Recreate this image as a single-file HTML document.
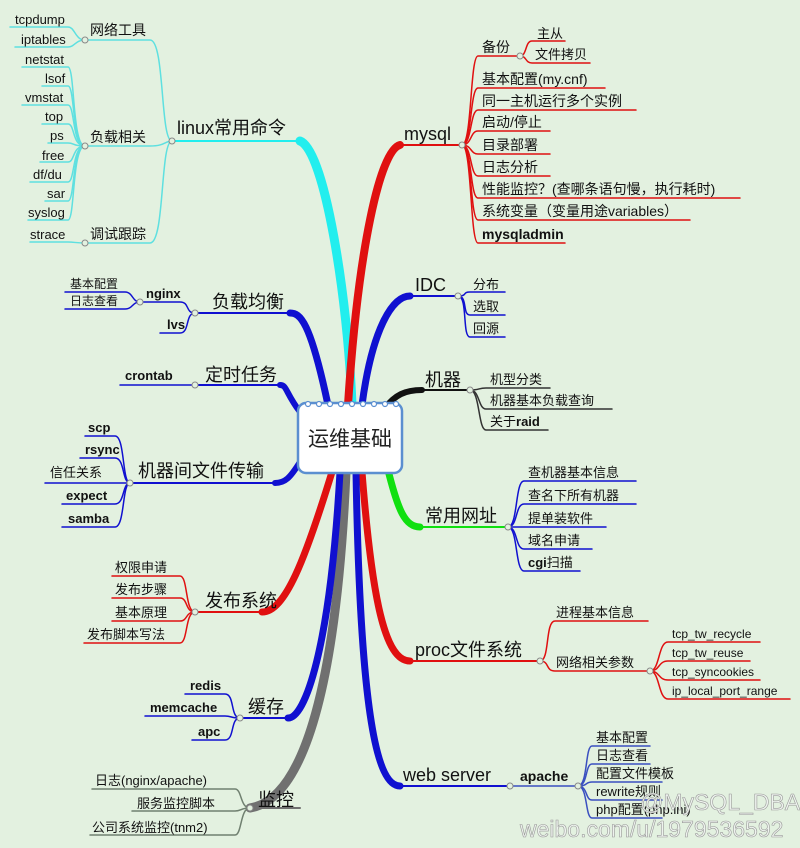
<!DOCTYPE html>
<html><head><meta charset="utf-8"><style>
html,body{margin:0;padding:0;background:#e3f1e0;}
svg{display:block;font-family:"Liberation Sans","Noto Sans CJK SC",sans-serif;}
.s{font-size:13px;fill:#111;}
.m{font-size:14px;fill:#111;}
.b{font-size:18px;fill:#111;}
.bold{font-weight:bold;}
</style></head><body>
<svg width="800" height="848" viewBox="0 0 800 848" xmlns="http://www.w3.org/2000/svg">
<rect width="800" height="848" fill="#e3f1e0"/>
<g fill="none" stroke-linecap="round">
<path d="M352,405 C348,300 325,150 300,141" stroke="#22eeee" stroke-width="9"/>
<path d="M348,405 C358,250 380,150 400,145" stroke="#e01010" stroke-width="8"/>
<path d="M362,405 C372,330 392,296 410,296" stroke="#1010d0" stroke-width="7"/>
<path d="M385,408 C395,395 405,390 422,390" stroke="#111" stroke-width="6"/>
<path d="M388,470 C398,510 405,527 420,527" stroke="#10e010" stroke-width="7"/>
<path d="M362,472 C372,600 385,661 410,661" stroke="#e01010" stroke-width="7"/>
<path d="M356,472 C360,700 375,786 400,786" stroke="#1010d0" stroke-width="7"/>
<path d="M346,472 C336,700 300,800 250,808" stroke="#707070" stroke-width="9"/>
<path d="M340,472 C330,650 305,718 288,718" stroke="#1010d0" stroke-width="7"/>
<path d="M332,472 C305,560 285,612 262,612" stroke="#e01010" stroke-width="7"/>
<path d="M300,462 C290,478 285,483 275,483" stroke="#1010d0" stroke-width="6"/>
<path d="M300,412 C285,392 287,385 280,385" stroke="#1010d0" stroke-width="6"/>
<path d="M328,405 C310,320 300,313 290,313" stroke="#1010d0" stroke-width="7"/>
<g stroke-width="2">
<path d="M172,141 H300" stroke="#22eeee"/>
<path d="M400,145 H462" stroke="#e01010"/>
<path d="M410,296 H458" stroke="#1010d0"/>
<path d="M422,390 H470" stroke="#111"/>
<path d="M420,527 H508" stroke="#10e010"/>
<path d="M410,661 H540" stroke="#e01010"/>
<path d="M400,786 H510" stroke="#1010d0"/>
<path d="M250,808 H300" stroke="#707070"/>
<path d="M240,718 H288" stroke="#1010d0"/>
<path d="M195,612 H262" stroke="#e01010"/>
<path d="M130,483 H275" stroke="#1010d0"/>
<path d="M195,385 H280" stroke="#1010d0"/>
<path d="M195,313 H290" stroke="#1010d0"/>
</g>
<g stroke="#5ee0e0" stroke-width="1.5">
<path d="M172,141 C160,141 165,40 150,40 H85"/>
<path d="M172,141 C165,141 165,146 150,146 H85"/>
<path d="M172,141 C160,141 165,243 150,243 H85"/>
<path d="M85,40 C75,40 75,27 68,27 H10"/>
<path d="M85,40 C75,40 75,47 68,47 H15"/>
<path d="M85,146 C72,146 75,67 68,67 H22"/>
<path d="M85,146 C72,146 75,86 68,86 H42"/>
<path d="M85,146 C72,146 75,105 68,105 H22"/>
<path d="M85,146 C72,146 75,124 68,124 H42"/>
<path d="M85,146 C72,146 75,143 68,143 H48"/>
<path d="M85,146 C72,146 75,162 68,162 H40"/>
<path d="M85,146 C72,146 75,182 68,182 H30"/>
<path d="M85,146 C72,146 75,201 68,201 H45"/>
<path d="M85,146 C72,146 75,220 68,220 H28"/>
<path d="M85,243 C75,243 75,242 68,242 H30"/>
</g>
<g stroke="#e01010" stroke-width="1.5">
<path d="M462,145 C472,145 470,56 478,56 H520"/>
<path d="M462,145 C472,145 470,88 478,88 H605"/>
<path d="M462,145 C472,145 470,110 478,110 H636"/>
<path d="M462,145 C472,145 470,131 478,131 H550"/>
<path d="M462,145 C472,145 470,154 478,154 H550"/>
<path d="M462,145 C472,145 470,176 478,176 H550"/>
<path d="M462,145 C472,145 470,198 478,198 H740"/>
<path d="M462,145 C472,145 470,220 478,220 H690"/>
<path d="M462,145 C472,145 470,243 478,243 H565"/>
<path d="M520,56 C527,56 525,41 532,41 H565"/>
<path d="M520,56 C527,56 525,63 532,63 H590"/>
</g>
<g stroke="#1010d0" stroke-width="1.5">
<path d="M458,296 C468,296 462,292 470,292 H505"/>
<path d="M458,296 C468,296 462,315 470,315 H505"/>
<path d="M458,296 C468,296 462,337 470,337 H505"/>
</g>
<g stroke="#333" stroke-width="1.5">
<path d="M470,390 C480,390 478,388 486,388 H550"/>
<path d="M470,390 C480,390 478,409 486,409 H612"/>
<path d="M470,390 C480,390 478,430 486,430 H548"/>
</g>
<g stroke="#1010d0" stroke-width="1.5">
<path d="M508,527 C518,527 515,481 524,481 H636"/>
<path d="M508,527 C518,527 515,504 524,504 H636"/>
<path d="M508,527 C518,527 515,527 524,527 H606"/>
<path d="M508,527 C518,527 515,549 524,549 H592"/>
<path d="M508,527 C518,527 515,571 524,571 H580"/>
</g>
<g stroke="#e01010" stroke-width="1.5">
<path d="M540,661 C550,661 545,621 555,621 H648"/>
<path d="M540,661 C550,661 545,671 555,671 H650"/>
<path d="M650,671 C660,671 658,642 668,642 H760"/>
<path d="M650,671 C660,671 658,661 668,661 H750"/>
<path d="M650,671 C660,671 658,680 668,680 H760"/>
<path d="M650,671 C660,671 658,699 668,699 H790"/>
</g>
<g stroke="#3a4fc0" stroke-width="1.5">
<path d="M510,786 H578"/>
<path d="M578,786 C588,786 585,746 592,746 H650"/>
<path d="M578,786 C588,786 585,764 592,764 H650"/>
<path d="M578,786 C588,786 585,782 592,782 H662"/>
<path d="M578,786 C588,786 585,800 592,800 H662"/>
<path d="M578,786 C588,786 585,818 592,818 H662"/>
</g>
<g stroke="#1010d0" stroke-width="1.5">
<path d="M195,313 C185,313 190,302 180,302 H140"/>
<path d="M195,313 C185,313 190,333 180,333 H160"/>
<path d="M140,302 C132,302 133,292 125,292 H65"/>
<path d="M140,302 C132,302 133,309 125,309 H65"/>
<path d="M195,385 H120"/>
<path d="M130,483 C122,483 125,436 115,436 H85"/>
<path d="M130,483 C122,483 125,458 115,458 H80"/>
<path d="M130,483 H45"/>
<path d="M130,483 C122,483 125,504 115,504 H62"/>
<path d="M130,483 C122,483 125,527 115,527 H62"/>
<path d="M240,718 C230,718 235,694 225,694 H185"/>
<path d="M240,718 C230,718 232,716 225,716 H145"/>
<path d="M240,718 C230,718 235,740 225,740 H192"/>
</g>
<g stroke="#e01010" stroke-width="1.5">
<path d="M195,612 C185,612 188,576 180,576 H112"/>
<path d="M195,612 C185,612 188,598 180,598 H112"/>
<path d="M195,612 C185,612 188,621 180,621 H112"/>
<path d="M195,612 C185,612 188,643 180,643 H84"/>
</g>
<g stroke="#708070" stroke-width="1.5">
<path d="M250,808 C240,808 242,789 235,789 H92"/>
<path d="M250,808 C240,808 242,811 235,811 H132"/>
<path d="M250,808 C240,808 242,835 235,835 H90"/>
</g>
</g>
<g fill="#e3f1e0" stroke="#888" stroke-width="1">
<circle cx="172" cy="141" r="3"/><circle cx="85" cy="40" r="3"/><circle cx="85" cy="146" r="3"/><circle cx="85" cy="243" r="3"/>
<circle cx="462" cy="145" r="3"/><circle cx="520" cy="56" r="3"/><circle cx="458" cy="296" r="3"/><circle cx="470" cy="390" r="3"/>
<circle cx="508" cy="527" r="3"/><circle cx="540" cy="661" r="3"/><circle cx="650" cy="671" r="3"/><circle cx="510" cy="786" r="3"/><circle cx="578" cy="786" r="3"/>
<circle cx="195" cy="313" r="3"/><circle cx="140" cy="302" r="3"/><circle cx="195" cy="385" r="3"/><circle cx="130" cy="483" r="3"/>
<circle cx="240" cy="718" r="3"/><circle cx="195" cy="612" r="3"/><circle cx="250" cy="808" r="3"/>
</g>
<rect x="298" y="403" width="104" height="70" rx="8" fill="#fff" stroke="#5b8fd0" stroke-width="2.5"/>
<g fill="#fff" stroke="#5b8fd0" stroke-width="1.2">
<circle cx="308" cy="404" r="2.5"/><circle cx="319" cy="404" r="2.5"/><circle cx="330" cy="404" r="2.5"/><circle cx="341" cy="404" r="2.5"/><circle cx="352" cy="404" r="2.5"/><circle cx="363" cy="404" r="2.5"/><circle cx="374" cy="404" r="2.5"/><circle cx="385" cy="404" r="2.5"/><circle cx="396" cy="404" r="2.5"/>
</g>
<text x="350" y="446" text-anchor="middle" style="font-size:21px;fill:#222">运维基础</text>
<text class="s" x="15" y="24">tcpdump</text><text class="s" x="21" y="44">iptables</text>
<text class="m" x="90" y="35">网络工具</text>
<text class="s" x="25" y="64">netstat</text><text class="s" x="45" y="83">lsof</text><text class="s" x="25" y="102">vmstat</text>
<text class="s" x="45" y="121">top</text><text class="s" x="50" y="140">ps</text><text class="s" x="42" y="160">free</text>
<text class="s" x="33" y="179">df/du</text><text class="s" x="47" y="198">sar</text><text class="s" x="28" y="217">syslog</text>
<text class="s" x="30" y="239">strace</text>
<text class="m" x="90" y="142">负载相关</text><text class="m" x="90" y="239">调试跟踪</text>
<text class="b" x="177" y="134">linux常用命令</text>
<text class="b" x="404" y="140">mysql</text>
<text class="m" x="482" y="52">备份</text>
<text class="s" x="537" y="38">主从</text><text class="s" x="535" y="59">文件拷贝</text>
<text class="m" x="482" y="84">基本配置(my.cnf)</text>
<text class="m" x="482" y="106">同一主机运行多个实例</text>
<text class="m" x="482" y="127">启动/停止</text>
<text class="m" x="482" y="150">目录部署</text>
<text class="m" x="482" y="172">日志分析</text>
<text class="m" x="482" y="194">性能监控？(查哪条语句慢，执行耗时)</text>
<text class="m" x="482" y="216">系统变量（变量用途variables）</text>
<text class="m bold" x="482" y="239">mysqladmin</text>
<text class="b" x="415" y="291">IDC</text>
<text class="s" x="473" y="289">分布</text><text class="s" x="473" y="311">选取</text><text class="s" x="473" y="333">回源</text>
<text class="b" x="425" y="386">机器</text>
<text class="s" x="490" y="384">机型分类</text><text class="s" x="490" y="405">机器基本负载查询</text><text class="s" x="490" y="426">关于<tspan class="bold">raid</tspan></text>
<text class="b" x="425" y="522">常用网址</text>
<text class="s" x="528" y="477">查机器基本信息</text><text class="s" x="528" y="500">查名下所有机器</text><text class="s" x="528" y="523">提单装软件</text><text class="s" x="528" y="545">域名申请</text><text class="s bold" x="528" y="567">cgi<tspan style="font-weight:normal">扫描</tspan></text>
<text class="b" x="415" y="656">proc文件系统</text>
<text class="s" x="556" y="617">进程基本信息</text><text class="s" x="556" y="667">网络相关参数</text>
<text class="s" x="672" y="638" style="font-size:12px">tcp_tw_recycle</text><text class="s" x="672" y="657" style="font-size:12px">tcp_tw_reuse</text>
<text class="s" x="672" y="676" style="font-size:12px">tcp_syncookies</text><text class="s" x="672" y="695" style="font-size:12px">ip_local_port_range</text>
<text class="b" x="403" y="781">web server</text>
<text class="s bold" x="520" y="781" style="font-size:14px">apache</text>
<text class="s" x="596" y="742">基本配置</text><text class="s" x="596" y="760">日志查看</text><text class="s" x="596" y="778">配置文件模板</text><text class="s" x="596" y="796">rewrite规则</text><text class="s" x="596" y="814">php配置(php.ini)</text>
<text class="b" x="212" y="308">负载均衡</text>
<text class="s bold" x="146" y="298">nginx</text><text class="s bold" x="167" y="329">lvs</text>
<text class="s" x="70" y="288" style="font-size:12px">基本配置</text><text class="s" x="70" y="305" style="font-size:12px">日志查看</text>
<text class="b" x="205" y="381">定时任务</text><text class="s bold" x="125" y="380">crontab</text>
<text class="b" x="138" y="477">机器间文件传输</text>
<text class="s bold" x="88" y="432">scp</text><text class="s bold" x="85" y="454">rsync</text><text class="s" x="50" y="477">信任关系</text>
<text class="s bold" x="66" y="500">expect</text><text class="s bold" x="68" y="523">samba</text>
<text class="b" x="205" y="607">发布系统</text>
<text class="s" x="115" y="572">权限申请</text><text class="s" x="115" y="594">发布步骤</text><text class="s" x="115" y="617">基本原理</text><text class="s" x="87" y="639">发布脚本写法</text>
<text class="b" x="248" y="713">缓存</text>
<text class="s bold" x="190" y="690">redis</text><text class="s bold" x="150" y="712">memcache</text><text class="s bold" x="198" y="736">apc</text>
<text class="b" x="258" y="806">监控</text>
<text class="s" x="95" y="785">日志(nginx/apache)</text><text class="s" x="137" y="808">服务监控脚本</text><text class="s" x="92" y="832">公司系统监控(tnm2)</text>
<g style="font-size:23px" fill="#eef3ee" stroke="#999" stroke-width="0.6">
<text x="640" y="810">@MySQL_DBA</text>
<text x="520" y="837">weibo.com/u/1979536592</text>
</g>
</svg>
</body></html>
